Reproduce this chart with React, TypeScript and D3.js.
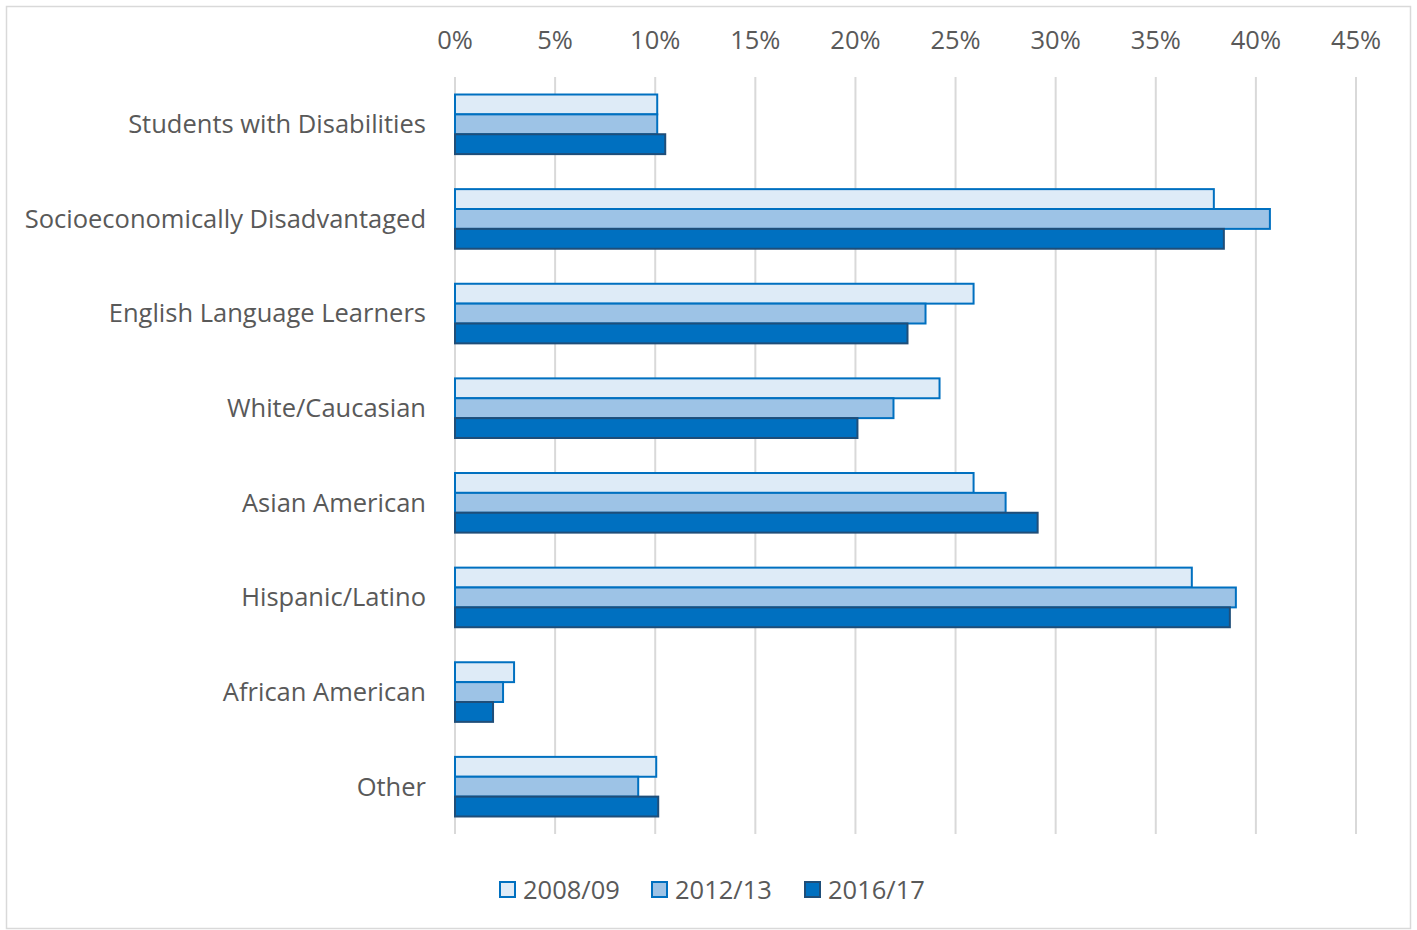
import React, { useEffect, useRef } from "react";
import * as d3 from "d3";

const categories = [
  "Students with Disabilities",
  "Socioeconomically Disadvantaged",
  "English Language Learners",
  "White/Caucasian",
  "Asian American",
  "Hispanic/Latino",
  "African American",
  "Other",
];
const seriesNames = ["2008/09", "2012/13", "2016/17"];
const values2008 = [10.1, 37.9, 25.9, 24.2, 25.9, 36.8, 2.95, 10.05];
const values2012 = [10.1, 40.7, 23.5, 21.9, 27.5, 39.0, 2.4, 9.15];
const values2016 = [10.5, 38.4, 22.6, 20.1, 29.1, 38.7, 1.9, 10.15];
const tickValues = [0, 5, 10, 15, 20, 25, 30, 35, 40, 45];

const fills = ["#deebf7", "#9dc3e6", "#0070c0"];
const strokes = ["#0070c0", "#0070c0", "#1f4e79"];

export default function App() {
  const ref = useRef<SVGSVGElement>(null);
  useEffect(() => {
    const svg = d3.select(ref.current);
    svg.selectAll("*").remove();
    const font = "'Open Sans', 'Noto Sans', sans-serif";
    const textColor = "#595959";
    const fs = 25.5;

    svg.append("rect").attr("x", 6.5).attr("y", 6.5).attr("width", 1404).attr("height", 922)
      .attr("fill", "#fff").attr("stroke", "#d9d9d9").attr("stroke-width", 1.5);

    const x = d3.scaleLinear().domain([0, 45]).range([455, 1356]);
    const y = d3.scaleBand().domain(categories).range([77, 834]).paddingInner(0.37).paddingOuter(0.185);
    const inner = d3.scaleBand().domain(seriesNames).range([0, y.bandwidth()]);

    const g = svg.append("g");
    g.selectAll("line.grid").data(tickValues).enter().append("line")
      .attr("x1", d => x(d)).attr("x2", d => x(d)).attr("y1", 77).attr("y2", 834)
      .attr("stroke", "#d9d9d9").attr("stroke-width", 2);

    g.selectAll("text.tick").data(tickValues).enter().append("text")
      .attr("x", d => x(d)).attr("y", 49).attr("text-anchor", "middle")
      .attr("font-family", font).attr("font-size", fs).attr("fill", textColor)
      .text(d => d + "%");

    const all = [values2008, values2012, values2016];
    all.forEach((vals, si) => {
      g.selectAll("rect.s" + si).data(vals).enter().append("rect")
        .attr("x", x(0))
        .attr("y", (d, i) => (y(categories[i]) as number) + (inner(seriesNames[si]) as number))
        .attr("width", d => x(d) - x(0))
        .attr("height", inner.bandwidth())
        .attr("fill", fills[si]).attr("stroke", strokes[si]).attr("stroke-width", 2);
    });

    g.selectAll("text.cat").data(categories).enter().append("text")
      .attr("x", 426).attr("y", d => (y(d) as number) + y.bandwidth() / 2)
      .attr("dy", "0.35em").attr("text-anchor", "end")
      .attr("font-family", font).attr("font-size", fs).attr("fill", textColor)
      .text(d => d);

    const legendX = [500, 652, 805];
    seriesNames.forEach((s, i) => {
      g.append("rect").attr("x", legendX[i]).attr("y", 882).attr("width", 15).attr("height", 15)
        .attr("fill", fills[i]).attr("stroke", strokes[i]).attr("stroke-width", 2);
      g.append("text").attr("x", legendX[i] + 23).attr("y", 890).attr("dy", "0.35em")
        .attr("font-family", font).attr("font-size", fs).attr("fill", textColor).text(s);
    });
  }, []);
  return (
    <svg ref={ref} width={1417} height={930}
      style={{ position: "absolute", left: 0, top: 0, display: "block", background: "#fff" }} />
  );
}
